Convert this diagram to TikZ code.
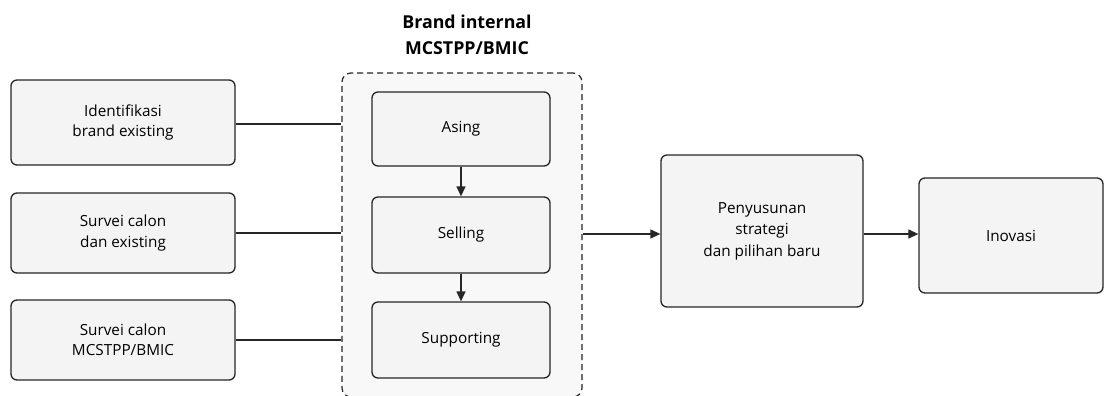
\documentclass[tikz,border=0pt]{standalone}
\usepackage{fontspec}
\setmainfont{Open Sans}
\usetikzlibrary{arrows.meta,positioning}

\definecolor{boxfill}{HTML}{F4F4F4}
\definecolor{groupfill}{HTML}{F8F8F8}
\definecolor{edge}{HTML}{262626}

\begin{document}
\begin{tikzpicture}[x=1pt,y=-1pt,
    box/.style={draw=edge,line width=1.3pt,fill=boxfill,rounded corners=6pt,
      align=center,font=\fontsize{15.3}{20.5}\selectfont,inner sep=0pt},
    group/.style={draw=edge,line width=1.2pt,dashed,dash pattern=on 6pt off 4pt,
      fill=groupfill,rounded corners=9pt,inner sep=0pt},
    link/.style={draw=edge,line width=1.3pt},
    arr/.style={link,-{Triangle[length=10pt,width=9pt]}}]
        \useasboundingbox (0,0) rectangle (1106,396);
        % brand group
        \node[group,minimum width=240pt,minimum height=324pt] (internal) at (462,235) {};
        \node[align=center,font=\bfseries\fontsize{17.8}{26}\selectfont] (title) at (467,35)
          {Brand internal\\MCSTPP/BMIC};
        % inputs
        \node[box,minimum width=224pt,minimum height=85pt] (ident) at (123,122.5) {Identifikasi\\brand existing};
        \node[box,minimum width=224pt,minimum height=80pt] (svexist) at (123,233) {Survei calon\\dan existing};
        \node[box,minimum width=224pt,minimum height=80pt] (svmcs) at (123,340) {Survei calon\\MCSTPP/BMIC};
        % inside the group
        \node[box,minimum width=178pt,minimum height=74pt] (asing) at (461,129) {Asing};
        \node[box,minimum width=178pt,minimum height=76pt] (selling) at (461,235) {Selling};
        \node[box,minimum width=178pt,minimum height=76pt] (supp) at (461,340) {Supporting};
        % outputs
        \node[box,minimum width=202pt,minimum height=152pt,font=\fontsize{15.3}{21.5}\selectfont] (strat) at (762,231)
          {Penyusunan\\strategi\\dan pilihan baru};
        \node[box,minimum width=184pt,minimum height=115pt] (inov) at (1011,235.5) {Inovasi};
        % connectors
        \foreach \n/\y in {ident/124,svexist/233,svmcs/340}
          \draw[link] (\n.east |- 0,\y) -- (internal.west |- 0,\y);
        \draw[arr] (asing) -- (selling);
        \draw[arr] (selling) -- (supp);
        \draw[arr] (internal.east |- 0,234) -- (strat.west |- 0,234);
        \draw[arr] (strat.east |- 0,234) -- (inov.west |- 0,234);
      \end{tikzpicture}
\end{document}
